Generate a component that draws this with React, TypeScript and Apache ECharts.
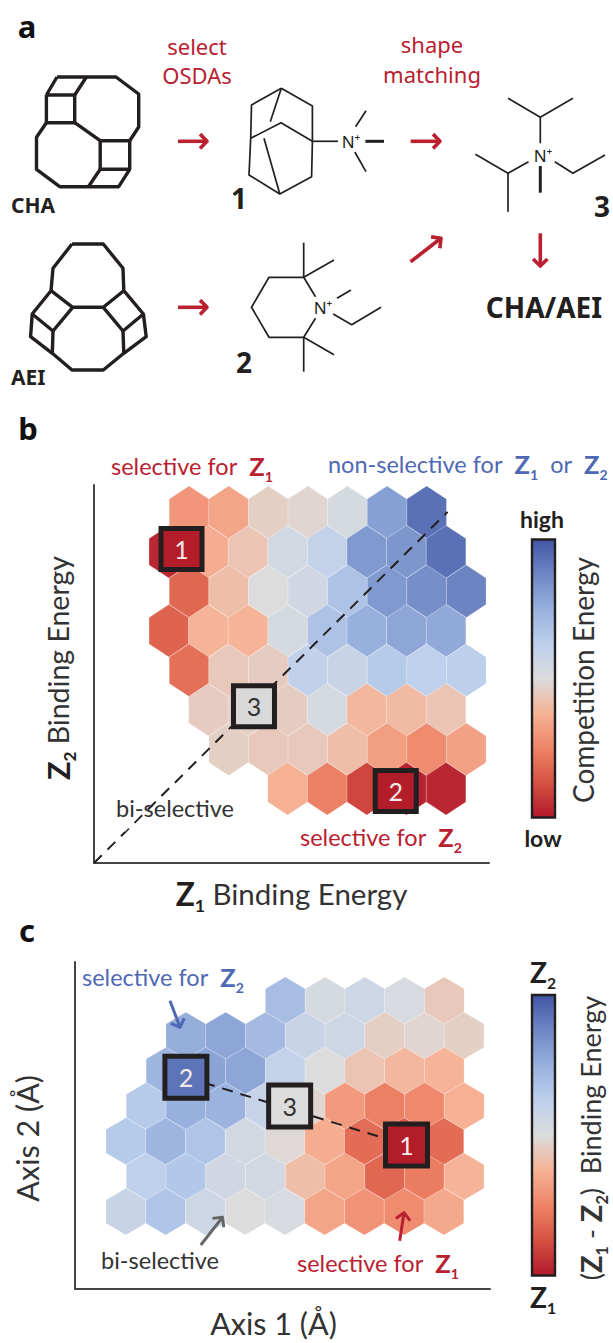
import React, { useEffect, useRef } from "react";
import * as echarts from "echarts";

// ---- Panel b: competition energy, top row first (0 = low, 1 = high)
const bRowStart = [2.4, 1.89, 2.4, 1.89, 2.4, 2.89, 3.4, 4.89];
const bRowV = [8.88, 7.88, 6.88, 5.88, 4.88, 3.88, 2.88, 1.88];
const bValues = [
  [0.3, 0.34, 0.46, 0.48, 0.53, 0.8, 0.93],
  [0.03, 0.36, 0.43, 0.54, 0.6, 0.82, 0.83, 0.93],
  [0.18, 0.41, 0.5, 0.55, 0.68, 0.82, 0.85, 0.88],
  [0.17, 0.38, 0.38, 0.53, 0.68, 0.75, 0.78, 0.77],
  [0.2, 0.44, 0.45, 0.61, 0.58, 0.65, 0.62, 0.63],
  [0.45, 0.46, 0.45, 0.53, 0.39, 0.4, 0.43],
  [0.46, 0.44, 0.44, 0.41, 0.32, 0.27, 0.33],
  [0.37, 0.24, 0.1, 0.02, 0.03],
];
// ---- Panel c: (Z1 - Z2) binding energy, top row first
const cRowStart = [5.29, 2.79, 2.29, 1.79, 1.28, 1.79, 1.28];
const cRowV = [8.19, 7.19, 6.19, 5.19, 4.19, 3.19, 2.19];
const cValues = [
  [0.7, 0.53, 0.56, 0.52, 0.44],
  [0.76, 0.78, 0.71, 0.58, 0.56, 0.46, 0.48, 0.46],
  [0.73, 0.79, 0.78, 0.6, 0.5, 0.43, 0.39, 0.38],
  [0.65, 0.75, 0.74, 0.59, 0.48, 0.31, 0.24, 0.26, 0.37],
  [0.65, 0.73, 0.67, 0.54, 0.49, 0.36, 0.19, 0.15, 0.19],
  [0.62, 0.66, 0.55, 0.54, 0.41, 0.34, 0.18, 0.23, 0.38],
  [0.58, 0.67, 0.56, 0.5, 0.52, 0.34, 0.29, 0.27, 0.35],
];
// ---- Numbered OSDA markers: [u, v, label]
const bMarkers = [
  [2.21, 7.95, "1"],
  [7.62, 1.82, "2"],
  [4.04, 3.97, "3"],
];
const cMarkers = [
  [2.79, 6.01, "2"],
  [5.4, 5.19, "3"],
  [8.34, 4.08, "1"],
];
const markerColors: Record<string, string> = { "1": "#b31d2a", "2": "#b31d2a", "3": "#d9d9d9" };
const cMarkerColors: Record<string, string> = { "1": "#b31d2a", "2": "#5d74b8", "3": "#dcdcdc" };
const colormap = ["#b2182b", "#d55243", "#ee8468", "#f6b295", "#dcdcdc", "#bdd0ec", "#98b0dd", "#6e87c3", "#4355a6"];

// ---- Molecule drawings for panel a: pixel polylines
const chaLines = [
  [[57, 77], [116, 77], [138.7, 94], [138.7, 127], [129.7, 140.7]],
  [[46.4, 95], [74.7, 95], [74.7, 122.7], [46.4, 122.7], [46.4, 95]],
  [[46.4, 95], [57, 77]],
  [[74.7, 95], [86.4, 77]],
  [[46.4, 122.7], [36.5, 137.3], [36.5, 169.3], [59.7, 186.7], [118.7, 186.7], [129.7, 169.3]],
  [[74.7, 122.7], [100.2, 140.7]],
  [[100.2, 140.7], [129.7, 140.7], [129.7, 169.3], [100.2, 169.3], [100.2, 140.7]],
  [[100.2, 169.3], [88.4, 186.7]],
];
const aeiLines = [
  [[72, 244], [103.3, 244], [123, 268.3], [123.8, 290.7], [143.4, 314], [146.2, 336.7], [123.8, 353.3], [103.3, 370], [72, 370], [52.3, 353.3], [30.6, 336.7], [32.2, 314], [51, 290.7], [53, 268.3], [72, 244]],
  [[51, 290.7], [72.7, 307.3], [103.3, 307.3], [123.8, 290.7]],
  [[32.2, 314], [53, 331], [72.7, 307.3]],
  [[53, 331], [52.3, 353.3]],
  [[143.4, 314], [123, 331], [103.3, 307.3]],
  [[123, 331], [123.8, 353.3]],
];
const osda1Lines = [
  [[281.3, 88.3], [312.4, 106], [312.4, 141.3], [311.6, 176.7], [279.8, 194], [249, 175], [250.7, 138.3], [251.5, 105], [281.3, 88.3]],
  [[250.7, 138.3], [281, 122.7], [312.4, 141.3]],
  [[281.3, 88.3], [270.3, 121.7]],
  [[264, 138.3], [279.8, 194]],
  [[312.4, 141.3], [338, 141.3]],
  [[355.6, 126.7], [366, 110.7]],
  [[354.8, 152], [366, 171.7]],
];
const osda2Lines = [
  [[315.5, 296.7], [303.7, 277.3], [269, 277.3], [251.5, 307.3], [269, 337.3], [303.7, 337.3], [315.5, 318.3]],
  [[303.7, 277.3], [303.7, 242.7]],
  [[303.7, 277.3], [334, 260]],
  [[303.7, 337.3], [303.7, 371.7]],
  [[303.7, 337.3], [334, 354.7]],
  [[337, 298.3], [350.9, 290]],
  [[333.2, 314], [351.7, 324.7], [381, 307.3]],
];
const osda3Lines = [
  [[540.3, 117.3], [540.3, 143.3]],
  [[508, 98.3], [540.3, 117.3], [572.9, 98.3]],
  [[475.4, 154.3], [508, 173.3], [528.5, 161.7]],
  [[508, 173.3], [508, 211.7]],
  [[554.8, 161.7], [572.9, 173.3], [605, 155]],
];

const CM = "Lato";
const HEAD = "'Noto Sans'";
const RED = "#b92030";
const BLUE = "#4f68b3";
const INK = "#231f20";

const poly = (points: number[][], lineWidth: number, stroke = INK) => ({
  type: "polyline",
  z: 100,
  silent: true,
  shape: { points },
  style: { stroke, lineWidth, fill: "none", lineJoin: "round" },
});

const arrow = (x0: number, y0: number, x1: number, y1: number, color: string, w = 3.6, h = 10) => {
  const a = Math.atan2(y1 - y0, x1 - x0);
  const p = (d: number) => [x1 - h * Math.cos(a + d), y1 - h * Math.sin(a + d)];
  return [poly([[x0, y0], [x1, y1]], w, color), poly([p(0.8), [x1, y1], p(-0.8)], w, color)];
};

const text = (x: number, y: number, s: string, size: number, fill: string, family = CM, weight = "normal", align = "center", rotation = 0) => ({
  type: "text",
  z: 100,
  silent: true,
  x,
  y,
  rotation,
  style: { text: s, fontSize: size, fill, fontFamily: family, fontWeight: weight, align, verticalAlign: "middle" },
});

const richStyles = (fill: string, size: number) => ({
  n: { fontSize: size, fill, fontFamily: CM, lineHeight: size + 12 },
  b: { fontSize: size + 2, fill, fontFamily: CM, fontWeight: "bold", lineHeight: size + 12 },
  s: { fontSize: size * 0.6, fill, fontFamily: CM, fontWeight: "bold", lineHeight: size * 0.6, verticalAlign: "bottom" },
});

const rich = (x: number, y: number, s: string, size: number, fill: string, align = "left", rotation = 0) => ({
  type: "text",
  z: 100,
  silent: true,
  x,
  y,
  rotation,
  style: { text: s, rich: richStyles(fill, size), align, verticalAlign: "middle" },
});

const nameStyle = (size: number, padding: number[]) => ({
  fontSize: size,
  color: "#333",
  fontFamily: CM,
  padding,
  rich: {
    n: { fontSize: size, color: "#333", fontFamily: CM, lineHeight: size + 12 },
    b: { fontSize: size + 2, color: INK, fontFamily: CM, fontWeight: "bold", lineHeight: size + 12 },
    s: { fontSize: size * 0.6, color: INK, fontFamily: CM, fontWeight: "bold", lineHeight: size * 0.6, verticalAlign: "bottom" },
  },
});

const hexData = (starts: number[], vs: number[], rows: number[][]) =>
  rows.flatMap((row, r) => row.map((val, i) => [starts[r] + i, vs[r], val]));

const renderHex = (_: any, api: any) => {
  const c = api.coord([api.value(0), api.value(1)]);
  const s = api.size([1, 1]);
  const hw = s[0] / 2;
  const t = (s[1] * 2) / 3;
  const points = [
    [c[0], c[1] - t],
    [c[0] + hw, c[1] - t / 2],
    [c[0] + hw, c[1] + t / 2],
    [c[0], c[1] + t],
    [c[0] - hw, c[1] + t / 2],
    [c[0] - hw, c[1] - t / 2],
  ];
  return {
    type: "polygon",
    shape: { points },
    style: { fill: api.visual("color"), stroke: "rgba(255,255,255,0.35)", lineWidth: 0.6 },
  };
};

const markerSeries = (xi: number, rows: any[], colors: Record<string, string>, size: number) => ({
  type: "scatter",
  xAxisIndex: xi,
  yAxisIndex: xi,
  z: 10,
  symbol: "rect",
  symbolSize: size,
  silent: true,
  data: rows.map((m) => ({
    value: [m[0], m[1]],
    name: m[2],
    itemStyle: { color: colors[m[2]], borderColor: INK, borderWidth: 5, opacity: 1 },
    label: {
      show: true,
      position: "inside",
      formatter: m[2],
      fontSize: 25,
      fontFamily: CM,
      color: m[2] === "3" ? "#333" : "#f3e9e9",
    },
  })),
});

const dashLine = (xi: number, data: number[][], dash = [11, 8]) => ({
  type: "line",
  xAxisIndex: xi,
  yAxisIndex: xi,
  z: 5,
  symbol: "none",
  silent: true,
  data,
  lineStyle: { color: INK, width: 2, type: dash },
});

const axisPair = (gi: number, xmax: number, ymax: number, xName: string, yName: string, size: number, ySize: number, xp: number[], yp: number[], xGap: number, yGap: number) => ({
  x: {
    type: "value",
    gridIndex: gi,
    min: 0,
    max: xmax,
    axisTick: { show: false },
    axisLabel: { show: false },
    splitLine: { show: false },
    axisLine: { show: true, onZero: false, lineStyle: { color: "#444", width: 2 } },
    name: xName,
    nameLocation: "middle",
    nameGap: xGap,
    nameTextStyle: nameStyle(size, xp),
  },
  y: {
    type: "value",
    gridIndex: gi,
    min: 0,
    max: ymax,
    axisTick: { show: false },
    axisLabel: { show: false },
    splitLine: { show: false },
    axisLine: { show: true, onZero: false, lineStyle: { color: "#444", width: 2 } },
    name: yName,
    nameLocation: "middle",
    nameGap: yGap,
    nameTextStyle: nameStyle(ySize, yp),
  },
});

const buildOption = () => {
  const b = axisPair(0, 395 / 39.6, 378 / 39.5, "{b|Z}{s|1}{n| Binding Energy}", "{b|Z}{s|2}{n| Binding Energy}", 29.5, 28.5, [0, 0, 0, 0], [0, 0, 0, 12], 10, 16);
  const c = axisPair(1, 415 / 39.75, 326.7 / 35.2, "Axis 1 (Å)", "Axis 2 (Å)", 30.5, 30.5, [0, 18, 0, 0], [0, 26, 0, 0], 19, 33);
  const molecules = [
    ...chaLines.map((l) => poly(l, 3.4)),
    ...aeiLines.map((l) => poly(l, 3.4)),
    ...osda1Lines.map((l) => poly(l, 1.7)),
    ...osda2Lines.map((l) => poly(l, 1.7)),
    ...osda3Lines.map((l) => poly(l, 1.7)),
    poly([[365.4, 141.3], [384, 141.3]], 3),
    poly([[540.3, 166], [540.3, 192.7]], 3),
  ];
  const graphic = [
    ...molecules,
    text(27, 26, "a", 31, "#111", HEAD, "bold"),
    text(28, 428, "b", 31, "#111", HEAD, "bold"),
    text(27, 930, "c", 31, "#111", HEAD, "bold"),
    text(197, 46, "select", 22, RED, HEAD),
    text(197, 75, "OSDAs", 22, RED, HEAD),
    text(432, 44, "shape", 22, RED, HEAD),
    text(432, 74, "matching", 22, RED, HEAD),
    text(11, 205, "CHA", 21, INK, HEAD, "bold", "left"),
    text(11, 377, "AEI", 21, INK, HEAD, "bold", "left"),
    text(239, 198, "1", 28, INK, HEAD, "bold"),
    text(244, 362, "2", 28, INK, HEAD, "bold"),
    text(602, 206, "3", 28, INK, HEAD, "bold"),
    text(351, 141, "N⁺", 17, INK, HEAD),
    text(323, 307, "N⁺", 17, INK, HEAD),
    text(543, 155, "N⁺", 17, INK, HEAD),
    text(544, 307, "CHA/AEI", 28, INK, HEAD, "bold"),
    ...arrow(178, 141.3, 207, 141.3, RED),
    ...arrow(410.6, 141.3, 440, 141.3, RED),
    ...arrow(178, 307.3, 207, 307.3, RED),
    ...arrow(410.6, 261.7, 441, 238.3, RED),
    ...arrow(540.3, 233.3, 540.3, 266, RED),
    rich(111, 466, "{n|selective for  }{b|Z}{s|1}", 23.5, RED),
    rich(328, 464, "{n|non-selective for  }{b|Z}{s|1}{n|  or  }{b|Z}{s|2}", 23.5, BLUE),
    text(175, 808, "bi-selective", 23.5, "#333"),
    rich(300, 837, "{n|selective for  }{b|Z}{s|2}", 23.5, RED),
    text(542, 519, "high", 23, INK, CM, "bold"),
    text(543, 838, "low", 23, INK, CM, "bold"),
    text(583, 680, "Competition Energy", 28, "#333", CM, "normal", "center", Math.PI / 2),
    rich(82, 977, "{n|selective for  }{b|Z}{s|2}", 23.5, BLUE),
    text(160, 1260, "bi-selective", 23.5, "#333"),
    rich(297, 1263, "{n|selective for  }{b|Z}{s|1}", 23.5, RED),
    ...arrow(170, 1000.7, 180, 1027.3, BLUE, 3, 10),
    ...arrow(200.8, 1245, 222.4, 1217.3, "#666", 3, 10),
    ...arrow(399.7, 1240.7, 404, 1212.7, RED, 3, 10),
    rich(543, 972, "{b|Z}{s|2}", 26, INK, "center"),
    rich(543, 1297, "{b|Z}{s|1}", 26, INK, "center"),
    rich(590, 1138, "{n|(}{b|Z}{s|1}{n| - }{b|Z}{s|2}{n|)  Binding Energy}", 27, "#333", "center", Math.PI / 2),
    {
      type: "rect",
      z: 100,
      silent: true,
      shape: { x: 532, y: 539.5, width: 23, height: 278 },
      style: { fill: "none", stroke: INK, lineWidth: 2.4 },
    },
    {
      type: "rect",
      z: 100,
      silent: true,
      shape: { x: 532, y: 995, width: 23, height: 280.5 },
      style: { fill: "none", stroke: INK, lineWidth: 2.4 },
    },
  ];
  return {
    animation: false,
    backgroundColor: "#fff",
    grid: [
      { left: 94, top: 485, width: 395, height: 378 },
      { left: 75, top: 962, width: 415, height: 326.7 },
    ],
    xAxis: [b.x, c.x],
    yAxis: [b.y, c.y],
    visualMap: [
      {
        type: "continuous",
        min: 0,
        max: 1,
        dimension: 2,
        seriesIndex: 0,
        left: 532,
        top: 539.5,
        padding: 0,
        itemWidth: 23,
        itemHeight: 278,
        calculable: false,
        hoverLink: false,
        inRange: { color: colormap },
        textStyle: { fontSize: 0, color: "rgba(0,0,0,0)" },
      },
      {
        type: "continuous",
        min: 0,
        max: 1,
        dimension: 2,
        seriesIndex: 1,
        left: 532,
        top: 995,
        padding: 0,
        itemWidth: 23,
        itemHeight: 280.5,
        calculable: false,
        hoverLink: false,
        inRange: { color: colormap },
        textStyle: { fontSize: 0, color: "rgba(0,0,0,0)" },
      },
    ],
    series: [
      { type: "custom", xAxisIndex: 0, yAxisIndex: 0, z: 2, silent: true, renderItem: renderHex, encode: { x: 0, y: 1 }, data: hexData(bRowStart, bRowV, bValues) },
      { type: "custom", xAxisIndex: 1, yAxisIndex: 1, z: 2, silent: true, renderItem: renderHex, encode: { x: 0, y: 1 }, data: hexData(cRowStart, cRowV, cValues) },
      dashLine(0, [[0, 0], [8.93, 8.89]]),
      {
        type: "line",
        xAxisIndex: 0,
        yAxisIndex: 0,
        z: 6,
        symbol: "none",
        silent: true,
        data: [[0.76, 0.81], [1.72, 1.89]],
        lineStyle: { color: "rgba(255,255,255,0.65)", width: 3 },
      },
      dashLine(1, [[cMarkers[0][0] as number, cMarkers[0][1] as number], [cMarkers[2][0] as number, cMarkers[2][1] as number]]),
      markerSeries(0, bMarkers, markerColors, 41),
      markerSeries(1, cMarkers, cMarkerColors, 42),
    ],
    graphic: { elements: graphic },
  };
};

export default function App() {
  const ref = useRef<HTMLDivElement>(null);
  useEffect(() => {
    document.body.style.margin = "0";
    const chart = echarts.init(ref.current!, undefined, { renderer: "svg" });
    chart.setOption(buildOption() as any);
    return () => chart.dispose();
  }, []);
  return <div ref={ref} style={{ width: 613, height: 1343 }} />;
}
